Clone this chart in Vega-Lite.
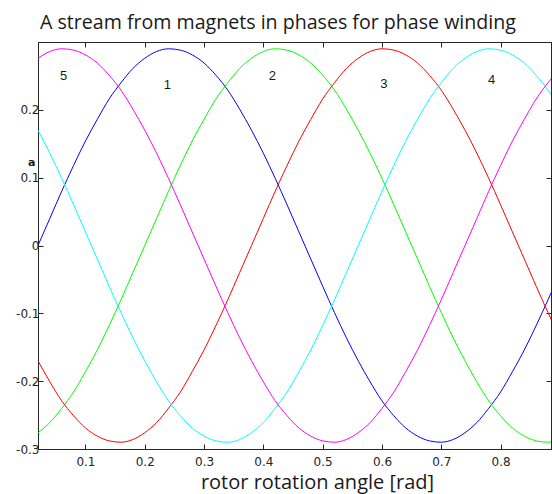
{
  "$schema": "https://vega.github.io/schema/vega-lite/v6.json",
  "width": 513,
  "height": 407,
  "autosize": {"type": "none"},
  "padding": {"left": 38, "top": 42, "right": 1, "bottom": 45},
  "background": "white",
  "title": {
    "text": "A stream from magnets in phases for phase winding",
    "anchor": "start",
    "frame": "group",
    "font": "Open Sans",
    "fontSize": 19.6,
    "fontWeight": "normal",
    "color": "#1a1a1a",
    "baseline": "alphabetic",
    "offset": 12,
    "dx": 2,
    "dy": 19
  },
  "config": {
    "view": {"stroke": "#262626", "strokeWidth": 1},
    "axis": {
      "grid": false,
      "domainColor": "#262626",
      "tickColor": "#262626",
      "tickSize": -5,
      "labelFont": "DejaVu Sans",
      "labelFontSize": 12,
      "labelColor": "#262626"
    }
  },
  "datasets": {
    "flux": [
      {"angle": 0.02, "1": 0.000, "2": -0.276, "3": -0.170, "4": 0.170, "5": 0.276},
      {"angle": 0.04, "1": 0.040, "2": -0.261, "3": -0.201, "4": 0.136, "5": 0.286},
      {"angle": 0.06, "1": 0.080, "2": -0.240, "3": -0.229, "4": 0.099, "5": 0.290},
      {"angle": 0.08, "1": 0.118, "2": -0.216, "3": -0.251, "4": 0.060, "5": 0.288},
      {"angle": 0.10, "1": 0.154, "2": -0.186, "3": -0.269, "4": 0.020, "5": 0.281},
      {"angle": 0.12, "1": 0.186, "2": -0.154, "3": -0.281, "4": -0.020, "5": 0.269},
      {"angle": 0.14, "1": 0.216, "2": -0.118, "3": -0.288, "4": -0.060, "5": 0.251},
      {"angle": 0.16, "1": 0.240, "2": -0.080, "3": -0.290, "4": -0.099, "5": 0.229},
      {"angle": 0.18, "1": 0.261, "2": -0.040, "3": -0.286, "4": -0.136, "5": 0.201},
      {"angle": 0.20, "1": 0.276, "2": 0.000, "3": -0.276, "4": -0.170, "5": 0.170},
      {"angle": 0.22, "1": 0.286, "2": 0.040, "3": -0.261, "4": -0.201, "5": 0.136},
      {"angle": 0.24, "1": 0.290, "2": 0.080, "3": -0.240, "4": -0.229, "5": 0.099},
      {"angle": 0.26, "1": 0.288, "2": 0.118, "3": -0.216, "4": -0.251, "5": 0.060},
      {"angle": 0.28, "1": 0.281, "2": 0.154, "3": -0.186, "4": -0.269, "5": 0.020},
      {"angle": 0.30, "1": 0.269, "2": 0.186, "3": -0.154, "4": -0.281, "5": -0.020},
      {"angle": 0.32, "1": 0.251, "2": 0.216, "3": -0.118, "4": -0.288, "5": -0.060},
      {"angle": 0.34, "1": 0.229, "2": 0.240, "3": -0.080, "4": -0.290, "5": -0.099},
      {"angle": 0.36, "1": 0.201, "2": 0.261, "3": -0.040, "4": -0.286, "5": -0.136},
      {"angle": 0.38, "1": 0.170, "2": 0.276, "3": 0.000, "4": -0.276, "5": -0.170},
      {"angle": 0.40, "1": 0.136, "2": 0.286, "3": 0.040, "4": -0.261, "5": -0.201},
      {"angle": 0.42, "1": 0.099, "2": 0.290, "3": 0.080, "4": -0.240, "5": -0.229},
      {"angle": 0.44, "1": 0.060, "2": 0.288, "3": 0.118, "4": -0.216, "5": -0.251},
      {"angle": 0.46, "1": 0.020, "2": 0.281, "3": 0.154, "4": -0.186, "5": -0.269},
      {"angle": 0.48, "1": -0.020, "2": 0.269, "3": 0.186, "4": -0.154, "5": -0.281},
      {"angle": 0.50, "1": -0.060, "2": 0.251, "3": 0.216, "4": -0.118, "5": -0.288},
      {"angle": 0.52, "1": -0.099, "2": 0.229, "3": 0.240, "4": -0.080, "5": -0.290},
      {"angle": 0.54, "1": -0.136, "2": 0.201, "3": 0.261, "4": -0.040, "5": -0.286},
      {"angle": 0.56, "1": -0.170, "2": 0.170, "3": 0.276, "4": 0.000, "5": -0.276},
      {"angle": 0.58, "1": -0.201, "2": 0.136, "3": 0.286, "4": 0.040, "5": -0.261},
      {"angle": 0.60, "1": -0.229, "2": 0.099, "3": 0.290, "4": 0.080, "5": -0.240},
      {"angle": 0.62, "1": -0.251, "2": 0.060, "3": 0.288, "4": 0.118, "5": -0.216},
      {"angle": 0.64, "1": -0.269, "2": 0.020, "3": 0.281, "4": 0.154, "5": -0.186},
      {"angle": 0.66, "1": -0.281, "2": -0.020, "3": 0.269, "4": 0.186, "5": -0.154},
      {"angle": 0.68, "1": -0.288, "2": -0.060, "3": 0.251, "4": 0.216, "5": -0.118},
      {"angle": 0.70, "1": -0.290, "2": -0.099, "3": 0.229, "4": 0.240, "5": -0.080},
      {"angle": 0.72, "1": -0.286, "2": -0.136, "3": 0.201, "4": 0.261, "5": -0.040},
      {"angle": 0.74, "1": -0.276, "2": -0.170, "3": 0.170, "4": 0.276, "5": 0.000},
      {"angle": 0.76, "1": -0.261, "2": -0.201, "3": 0.136, "4": 0.286, "5": 0.040},
      {"angle": 0.78, "1": -0.240, "2": -0.229, "3": 0.099, "4": 0.290, "5": 0.080},
      {"angle": 0.80, "1": -0.216, "2": -0.251, "3": 0.060, "4": 0.288, "5": 0.118},
      {"angle": 0.82, "1": -0.186, "2": -0.269, "3": 0.020, "4": 0.281, "5": 0.154},
      {"angle": 0.84, "1": -0.154, "2": -0.281, "3": -0.020, "4": 0.269, "5": 0.186},
      {"angle": 0.86, "1": -0.118, "2": -0.288, "3": -0.060, "4": 0.251, "5": 0.216},
      {"angle": 0.88, "1": -0.080, "2": -0.290, "3": -0.099, "4": 0.229, "5": 0.240},
      {"angle": 0.90, "1": -0.040, "2": -0.286, "3": -0.136, "4": 0.201, "5": 0.261}
    ],
    "phaseLabels": [
      {"angle": 0.063, "flux": 0.250, "label": "5"},
      {"angle": 0.238, "flux": 0.236, "label": "1"},
      {"angle": 0.415, "flux": 0.250, "label": "2"},
      {"angle": 0.603, "flux": 0.238, "label": "3"},
      {"angle": 0.785, "flux": 0.244, "label": "4"}
    ]
  },
  "layer": [
    {
      "data": {"name": "flux"},
      "transform": [
        {"fold": ["1", "2", "3", "4", "5"], "as": ["phase", "flux"]}
      ],
      "mark": {"type": "line", "strokeWidth": 1, "clip": true, "interpolate": "monotone"},
      "encoding": {
        "x": {
          "field": "angle",
          "type": "quantitative",
          "scale": {"domain": [0.02, 0.885], "nice": false, "zero": false},
          "axis": {
            "orient": "bottom",
            "values": [0.1, 0.2, 0.3, 0.4, 0.5, 0.6, 0.7, 0.8],
            "labelExpr": "toString(datum.value)",
            "labelPadding": 12,
            "title": "rotor rotation angle [rad]",
            "titleFont": "Open Sans",
            "titleFontSize": 20,
            "titleFontWeight": "normal",
            "titleColor": "#1a1a1a",
            "titleX": 279,
            "titleY": 39,
            "titleBaseline": "alphabetic",
            "titleAnchor": null,
            "titleAlign": "center"
          }
        },
        "y": {
          "field": "flux",
          "type": "quantitative",
          "scale": {"domain": [-0.3, 0.3], "nice": false, "zero": false},
          "axis": {
            "orient": "left",
            "values": [-0.3, -0.2, -0.1, 0, 0.1, 0.2],
            "labelExpr": "toString(datum.value)",
            "labelPadding": 4,
            "title": "a",
            "titleAngle": 0,
            "titleFont": "DejaVu Sans",
            "titleFontSize": 11,
            "titleFontWeight": "bold",
            "titleColor": "#1a1a1a",
            "titleX": -3,
            "titleY": 123,
            "titleAlign": "right",
            "titleBaseline": "alphabetic"
          }
        },
        "color": {
          "field": "phase",
          "type": "nominal",
          "scale": {
            "domain": ["1", "2", "3", "4", "5"],
            "range": ["#0000ff", "#00ff00", "#ff0000", "#00ffff", "#ff00ff"]
          },
          "legend": null
        }
      }
    },
    {
      "data": {"name": "phaseLabels"},
      "mark": {"type": "text", "font": "Liberation Sans", "fontSize": 13, "color": "#1a1a1a"},
      "encoding": {
        "x": {
          "field": "angle",
          "type": "quantitative",
          "axis": {
            "orient": "top",
            "values": [0.1, 0.2, 0.3, 0.4, 0.5, 0.6, 0.7, 0.8],
            "labels": false,
            "title": null
          }
        },
        "y": {
          "field": "flux",
          "type": "quantitative",
          "axis": {
            "orient": "right",
            "values": [-0.3, -0.2, -0.1, 0, 0.1, 0.2],
            "labels": false,
            "title": null
          }
        },
        "text": {"field": "label"}
      }
    }
  ],
  "resolve": {"axis": {"x": "independent", "y": "independent"}}
}
